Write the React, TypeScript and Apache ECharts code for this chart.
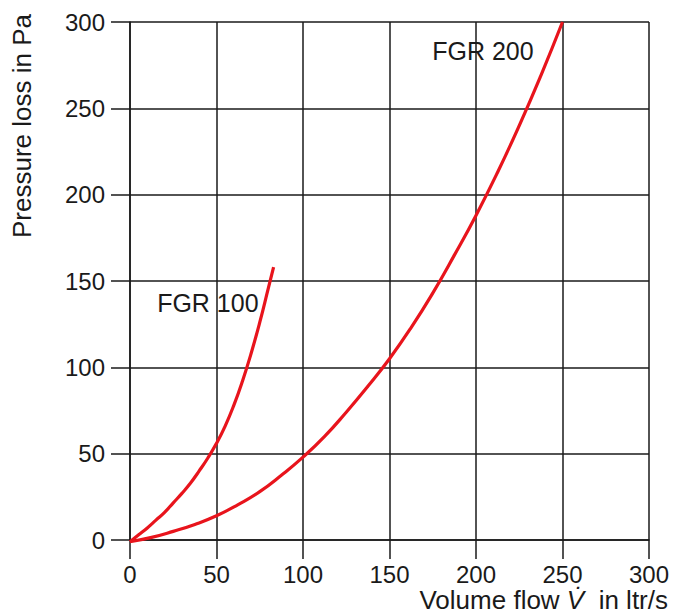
import React, { useEffect, useRef } from "react";
import * as echarts from "echarts";

const xTicks = [0, 50, 100, 150, 200, 250, 300];
const yTicks = [0, 50, 100, 150, 200, 250, 300];

const fgr100X = [0, 5, 10, 15, 20, 25, 30, 35, 40, 45, 50, 55, 60, 65, 70, 75, 80, 83];
const fgr100Y = [-1, 3, 7, 11.5, 16, 21.5, 27, 33, 40, 47.5, 56, 66, 78, 92, 108, 126, 146, 158];

const fgr200X = [0, 12.5, 25, 37.5, 50, 62.5, 75, 87.5, 100, 112.5, 125, 137.5, 150, 162.5, 175, 187.5, 200, 212.5, 225, 237.5, 250];
const fgr200Y = [-1, 1.5, 5, 9, 14, 20.5, 28, 37.5, 48, 60, 74, 89, 105, 123, 143, 165, 188, 213, 240, 269, 300];

const seriesNames = ["FGR 100", "FGR 200"];
const labelPos = [
  [45, 137],
  [204, 283],
];

const FONT = "'Liberation Sans', Arial, sans-serif";
const INK = "#1a1a1a";
const RED = "#e8141c";

export default function App() {
  const ref = useRef<HTMLDivElement>(null);
  useEffect(() => {
    if (!ref.current) return;
    const chart = echarts.init(ref.current, undefined, { renderer: "svg" });
    const pairs = (xs: number[], ys: number[]) => xs.map((x, i) => [x, ys[i]]);
    const axisCommon = {
      type: "value" as const,
      min: xTicks[0],
      max: xTicks[xTicks.length - 1],
      interval: 50,
      axisLine: { show: true, lineStyle: { color: INK, width: 1.5 } },
      axisTick: { show: true, length: 19, lineStyle: { color: INK, width: 1.5 } },
      splitLine: { show: true, lineStyle: { color: INK, width: 1.5 } },
      axisLabel: { color: INK, fontSize: 24, fontFamily: FONT },
    };
    const mk = (i: number) => ({
      symbol: "circle",
      symbolSize: 0,
      label: { show: true, position: "inside", formatter: seriesNames[i], color: INK, fontSize: 25, fontFamily: FONT },
      data: [{ coord: labelPos[i] }],
    });
    chart.setOption({
      animation: false,
      backgroundColor: "#ffffff",
      textStyle: { fontFamily: FONT },
      grid: { left: 130, right: 25, top: 22, bottom: 74, containLabel: false },
      xAxis: {
        ...axisCommon,
        axisLabel: { ...axisCommon.axisLabel, margin: 22, showMaxLabel: true },
      },
      yAxis: {
        ...axisCommon,
        min: yTicks[0],
        max: yTicks[yTicks.length - 1],
        axisLabel: { ...axisCommon.axisLabel, margin: 25 },
      },
      series: [
        {
          name: seriesNames[0],
          type: "line",
          smooth: 0.5,
          showSymbol: false,
          clip: false,
          lineStyle: { color: RED, width: 3.2 },
          data: pairs(fgr100X, fgr100Y),
          markPoint: mk(0),
        },
        {
          name: seriesNames[1],
          type: "line",
          smooth: 0.5,
          showSymbol: false,
          clip: false,
          lineStyle: { color: RED, width: 3.2 },
          data: pairs(fgr200X, fgr200Y),
          markPoint: mk(1),
        },
      ],
      graphic: [
        {
          type: "text",
          x: 22,
          y: 126,
          rotation: Math.PI / 2,
          style: {
            text: "Pressure loss in Pa",
            fill: INK,
            font: `26px ${FONT}`,
            textAlign: "center",
            textVerticalAlign: "middle",
          },
        },
        {
          type: "text",
          right: 6,
          bottom: 1,
          style: {
            text: "{a|Volume flow }{v|V\u0307}{a|  in ltr/s}",
            fill: INK,
            font: `26px ${FONT}`,
            rich: {
              a: { fontSize: 26, lineHeight: 22, fontFamily: FONT, fill: INK },
              v: { fontSize: 26, lineHeight: 22, fontFamily: FONT, fontStyle: "italic", fill: INK },
            },
          },
        },
      ],
    });
    return () => chart.dispose();
  }, []);
  return (
    <div
      ref={ref}
      style={{ position: "absolute", left: 0, top: 0, width: 674, height: 614 }}
    />
  );
}
